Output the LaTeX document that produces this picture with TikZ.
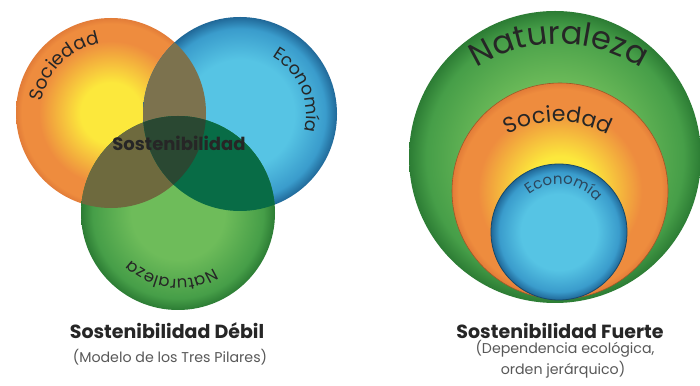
\documentclass[tikz,border=0pt]{standalone}
\usepackage{fontspec}
\setmainfont{Poppins}
\usetikzlibrary{decorations.text}

\definecolor{socY}{RGB}{252,232,60}
\definecolor{socO}{RGB}{238,140,62}
\definecolor{socE}{RGB}{226,124,56}
\definecolor{ecoC}{RGB}{86,196,228}
\definecolor{ecoM}{RGB}{58,156,204}
\definecolor{ecoE}{RGB}{32,104,152}
\definecolor{natC}{RGB}{110,188,90}
\definecolor{natM}{RGB}{70,158,72}
\definecolor{natE}{RGB}{44,124,52}
\definecolor{colSE}{RGB}{124,114,78}
\definecolor{colSN}{RGB}{110,106,62}
\definecolor{colEN}{RGB}{8,108,70}
\definecolor{colSEN}{RGB}{42,72,50}
\definecolor{txtdark}{RGB}{38,38,38}
\definecolor{txtblue}{RGB}{44,70,92}
\definecolor{txtgray}{RGB}{88,88,88}

\pgfdeclareradialshading{socshade}{\pgfpoint{0bp}{0bp}}{color(0bp)=(socY); color(8bp)=(socY); color(19bp)=(socO); color(23.5bp)=(socO); color(25bp)=(socE); color(50bp)=(socE)}
\pgfdeclareradialshading{ecoshade}{\pgfpoint{0bp}{0bp}}{color(0bp)=(ecoC); color(14bp)=(ecoC); color(22bp)=(ecoM); color(25bp)=(ecoE); color(50bp)=(ecoE)}
\pgfdeclareradialshading{natshade}{\pgfpoint{0bp}{0bp}}{color(0bp)=(natC); color(12bp)=(natC); color(22bp)=(natM); color(25bp)=(natE); color(50bp)=(natE)}

\tikzset{
  titletext/.style={font=\bfseries\fontsize{19}{19}\selectfont, text=txtdark, anchor=base},
  subtext/.style={font=\fontsize{14.2}{14.2}\selectfont, text=txtgray, anchor=base},
}

\begin{document}
\begin{tikzpicture}[x=1pt,y=1pt]
\useasboundingbox (0,0) rectangle (700,385);
\fill[white] (0,0) rectangle (700,385);

% ---------- left: weak sustainability ----------
\coordinate (cS) at (111,272);
\coordinate (cE) at (240,271);
\coordinate (cN) at (178,172);
\path[shading=socshade] (cS) circle[radius=95];
\path[shading=ecoshade] (cE) circle[radius=97];
\path[shading=natshade] (cN) circle[radius=97];
\begin{scope}
  \clip (cS) circle[radius=95];
  \fill[colSE] (cE) circle[radius=97];
  \fill[colSN] (cN) circle[radius=97];
\end{scope}
\begin{scope}
  \clip (cE) circle[radius=97];
  \fill[colEN] (cN) circle[radius=97];
  \clip (cS) circle[radius=95];
  \fill[colSEN] (cN) circle[radius=97];
\end{scope}

\path[decorate, decoration={text along path, text align=center, text color=txtdark,
  text={|\fontsize{18.5}{18.5}\selectfont|Sociedad}}]
  (cS) ++(200:70) arc[start angle=200, end angle=70, radius=70];
\path[decorate, decoration={text along path, text align=center, text color=txtdark,
  text={|\fontsize{17.5}{17.5}\selectfont|Economía}}]
  (cE) ++(100:66) arc[start angle=100, end angle=-54, radius=66];
\path[decorate, decoration={text along path, text align=center, text color=txtdark,
  text={|\fontsize{16.5}{16.5}\selectfont|Naturaleza}}]
  (cN) ++(-30:66) arc[start angle=-30, end angle=-162, radius=66];

\node[font=\bfseries\fontsize{18}{18}\selectfont, text=txtdark] (sost) at (179,242) {Sostenibilidad};

\node[titletext] (debil) at (167,47) {Sostenibilidad Débil};
\node[subtext] (debilsub) at (170,23) {(Modelo de los Tres Pilares)};

% ---------- right: strong sustainability ----------
\coordinate (rN) at (555,228);
\coordinate (rS) at (560,194);
\coordinate (rE) at (559,153);
\path[shading=natshade] (rN) circle[radius=146];
\path[shading=socshade] (rS) circle[radius=108];
\draw[socE!70!black, line width=0.6pt] (rS) circle[radius=108];
\path[shading=ecoshade] (rE) circle[radius=68];
\draw[ecoE!70!black, line width=0.8pt] (rE) circle[radius=68];

\coordinate (tN) at (559,187);
\coordinate (tS) at (558,157);
\path[decorate, decoration={text along path, text align=center, text color=txtdark,
  text={|\fontsize{32}{32}\selectfont|Naturaleza}}]
  (tN) ++(140:154) arc[start angle=140, end angle=40, radius=154];
\path[decorate, decoration={text along path, text align=center, text color=txtdark,
  text={|\fontsize{22}{22}\selectfont|Sociedad}}]
  (tS) ++(135:106) arc[start angle=135, end angle=45, radius=106];
\path[decorate, decoration={text along path, text align=center, text color=txtblue,
  text={|\fontsize{15}{15}\selectfont|Economía}}]
  (rE) ++(172:48) arc[start angle=172, end angle=-4, radius=48];

\node[titletext] (fuerte) at (560,47) {Sostenibilidad Fuerte};
\node[subtext] (fuertesub1) at (565,31) {(Dependencia ecológica,};
\node[subtext] (fuertesub2) at (563,11) {orden jerárquico)};
\end{tikzpicture}
\end{document}
